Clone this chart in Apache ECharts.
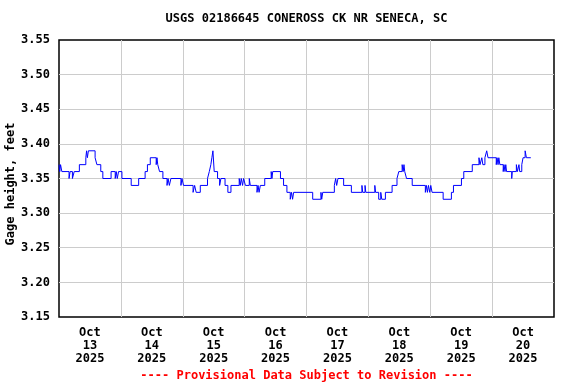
<!DOCTYPE html>
<html>
<head>
<meta charset="utf-8">
<script src="https://cdn.jsdelivr.net/npm/echarts@6/dist/echarts.min.js"></script>
<style>html,body{margin:0;padding:0;background:#fff}#c{width:576px;height:384px}</style>
</head>
<body>
<div id="c"></div>
<script>
// hours after Oct 13 2025 00:00 where a new gage level begins (step series)
var hours = [0,0.3,0.6,1.1,3.9,4.3,5.2,5.9,7.9,10.4,10.7,11.0,11.4,14.0,14.7,16.2,17.0,20.2,21.8,22.2,22.6,23.1,24.4,28.0,30.9,
  33.4,34.3,35.4,37.7,38.0,38.3,39.0,40.3,41.9,42.3,42.8,43.4,47.3,47.7,48.3,52.0,52.6,53.2,54.8,57.6,58.3,58.9,59.3,59.7,60.2,61.5,62.3,62.8,64.4,65.5,66.7,
  69.9,70.3,70.7,71.2,71.6,72.3,73.8,74.2,76.8,77.2,77.6,78.1,79.8,82.3,82.6,82.9,85.9,87.1,88.4,89.7,90.2,90.6,91.0,98.4,
  101.6,101.9,102.3,106.8,107.3,107.7,108.2,110.4,113.4,117.5,117.8,118.7,119.0,122.5,122.8,124.0,124.8,125.2,126.6,129.2,
  131.1,131.8,133.1,133.5,133.8,134.1,134.8,137.0,142.1,142.5,142.9,143.3,143.8,144.2,144.7,149.0,152.2,153.0,156.1,157.0,
  160.3,162.9,163.3,164.0,164.4,165.2,165.9,166.4,169.6,169.9,170.3,170.6,171.0,172.3,172.6,173.0,173.3,173.6,175.6,175.8,
  177.4,177.8,178.4,178.7,179.5,180.0,180.8,181.3,183.0];
var levels = [3.37,3.36,3.37,3.36,3.35,3.36,3.35,3.36,3.37,3.38,3.39,3.38,3.39,3.38,3.37,3.36,3.35,3.36,3.35,3.36,3.35,3.36,3.35,3.34,3.35,
  3.36,3.37,3.38,3.37,3.38,3.37,3.36,3.35,3.34,3.35,3.34,3.35,3.34,3.35,3.34,3.33,3.34,3.33,3.34,3.35,3.36,3.37,3.38,3.39,3.36,3.35,3.34,3.35,3.34,3.33,3.34,
  3.35,3.34,3.35,3.34,3.35,3.34,3.35,3.34,3.33,3.34,3.33,3.34,3.35,3.36,3.35,3.36,3.35,3.34,3.33,3.32,3.33,3.32,3.33,3.32,
  3.33,3.32,3.33,3.34,3.35,3.34,3.35,3.34,3.33,3.34,3.33,3.34,3.33,3.34,3.33,3.32,3.33,3.32,3.33,3.34,
  3.35,3.36,3.37,3.36,3.37,3.36,3.35,3.34,3.33,3.34,3.33,3.34,3.33,3.34,3.33,3.32,3.33,3.34,3.35,3.36,
  3.37,3.38,3.37,3.38,3.37,3.38,3.39,3.38,3.37,3.38,3.37,3.38,3.37,3.36,3.37,3.36,3.37,3.36,3.35,3.36,
  3.37,3.36,3.37,3.36,3.37,3.38,3.39,3.38,3.38];
var dayLabels = ['13','14','15','16','17','18','19','20'];
var monthLabel = 'Oct';
var yearLabel = '2025';
var titleText = 'USGS 02186645 CONEROSS CK NR SENECA, SC';
var yName = 'Gage height, feet';
var footText = '---- Provisional Data Subject to Revision ----';

var FONT = 'DejaVu Sans Mono';
var data = hours.map(function(h, i){ return [h, levels[i]]; });

var chart = echarts.init(document.getElementById('c'), null, {renderer:'canvas'});
chart.setOption({
  animation: false,
  backgroundColor: '#fff',
  title: [
    {text: titleText, left: 306.5, top: 13, padding: 0, textAlign: 'center',
     textStyle: {fontFamily: FONT, fontWeight: 'bold', fontSize: 12, color: '#000'}},
    {text: footText, left: 306.5, top: 370, padding: 0, textAlign: 'center',
     textStyle: {fontFamily: FONT, fontWeight: 'bold', fontSize: 12, color: '#ff0000'}}
  ],
  grid: {left: 59, right: 22, top: 40, bottom: 67, show: true, borderColor: '#000', borderWidth: 1.5,
    backgroundColor: 'transparent', containLabel: false, outerBoundsMode: 'none'},
  xAxis: [
    {type: 'value', min: 0, max: 192, interval: 24,
     axisLine: {show: false}, axisTick: {show: false}, axisLabel: {show: false},
     splitLine: {show: true, showMinLine: false, showMaxLine: false, lineStyle: {color: '#cccccc', width: 1}}},
    {type: 'value', min: 0, max: 192, interval: 12, position: 'bottom',
     axisLine: {show: false}, axisTick: {show: false}, splitLine: {show: false},
     axisLabel: {show: true, margin: 9, fontFamily: FONT, fontWeight: 'bold', fontSize: 12, color: '#000', lineHeight: 13,
       formatter: function(v){
         if (v % 24 !== 12) return '';
         var d = dayLabels[(v - 12) / 24];
         return d ? monthLabel + '\n' + d + '\n' + yearLabel : '';
       }}}
  ],
  yAxis: {type: 'value', min: 3.15, max: 3.55, interval: 0.05,
    name: yName, nameLocation: 'middle', nameGap: 42, nameRotate: 90, nameMoveOverlap: false,
    nameTextStyle: {fontFamily: FONT, fontWeight: 'bold', fontSize: 12, color: '#000', padding: [0, 11, 0, 0]},
    axisLine: {show: false}, axisTick: {show: false},
    axisLabel: {margin: 9, fontFamily: FONT, fontWeight: 'bold', fontSize: 12, color: '#000',
      formatter: function(v){ return v.toFixed(2); }},
    splitLine: {show: true, showMinLine: false, showMaxLine: false, lineStyle: {color: '#cccccc', width: 1}}},
  series: [{type: 'line', xAxisIndex: 0, step: 'end', data: data, showSymbol: false, symbol: 'none',
    lineStyle: {color: '#0000ff', width: 1}}]
});
</script>
</body>
</html>
